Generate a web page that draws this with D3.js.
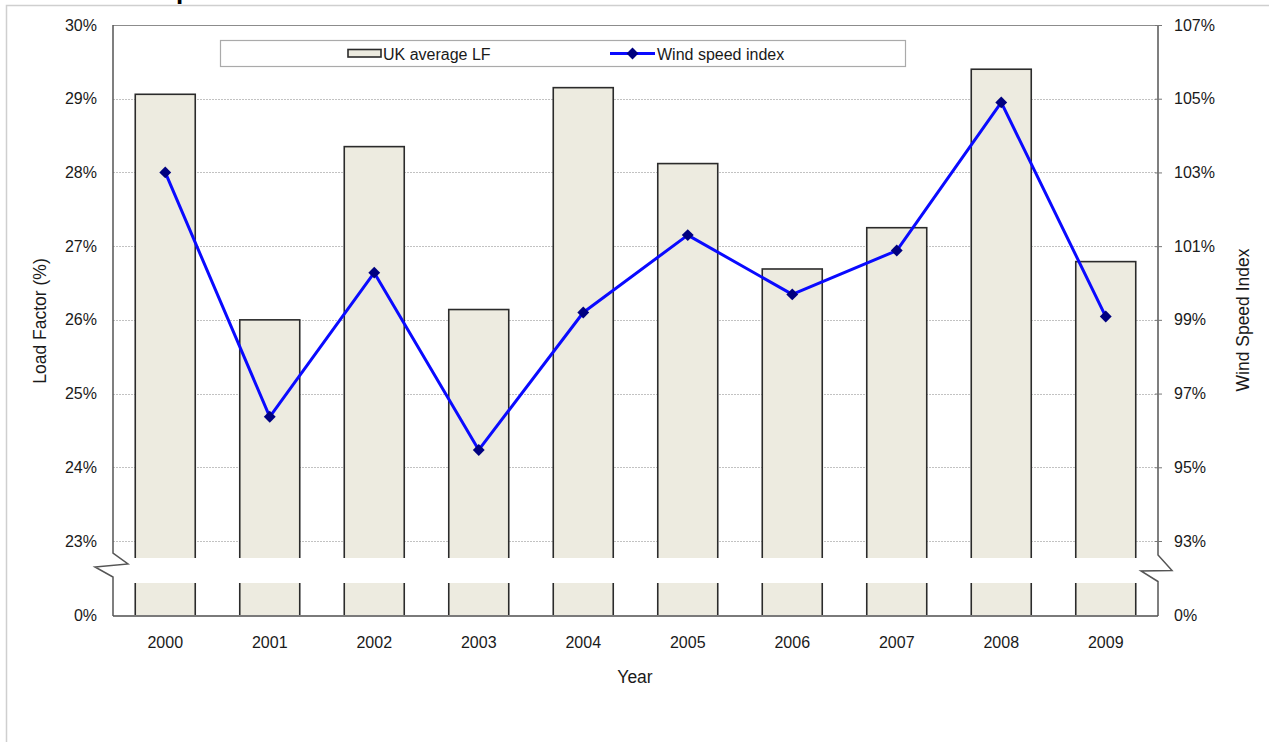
<!DOCTYPE html>
<html>
<head>
<meta charset="utf-8">
<script src="https://cdn.jsdelivr.net/npm/d3@7/dist/d3.min.js"></script>
<style>
  html, body { margin: 0; padding: 0; background: #fff; }
  svg { display: block; }
  text { font-family: "Liberation Sans", Arial, Helvetica, sans-serif; fill: #1a1a1a; }
</style>
</head>
<body>
<svg id="chart" width="1269" height="742"></svg>
<script>
// UK wind farm load factor vs wind speed index, 2000-2009
const years = ["2000", "2001", "2002", "2003", "2004", "2005", "2006", "2007", "2008", "2009"];
const loadFactor = [29.06, 26.00, 28.35, 26.14, 29.15, 28.12, 26.69, 27.25, 29.40, 26.79];
const windIndex = [103.0, 96.37, 100.28, 95.47, 99.20, 101.30, 99.69, 100.88, 104.90, 99.09];
const leftTicks = [23, 24, 25, 26, 27, 28, 29, 30];
const rightTicks = [93, 95, 97, 99, 101, 103, 105, 107];
const seriesNames = ["UK average LF", "Wind speed index"];

const svg = d3.select("#chart");

// plot geometry
const pL = 113, pR = 1158, pT = 25, pB = 616;
const breakTop = 558, breakBottom = 583;

const x = d3.scaleBand().domain(years).range([pL, pR])
  .paddingInner(0.426).paddingOuter(0.213);
const yL = d3.scaleLinear().domain([23, 30]).range([541, pT]);
const yR = d3.scaleLinear().domain([93, 107]).range([541, pT]);

// outer frame of the figure
svg.append("path")
  .attr("d", "M6.5,742 V5.5 H1269")
  .attr("fill", "none").attr("stroke", "#cfcfcf").attr("stroke-width", 1.5);

// title fragment running off the top edge
svg.append("text").attr("x", 176).attr("y", -1)
  .attr("font-size", 26).attr("font-weight", "bold").style("fill", "#000").text("p");

// gridlines
svg.append("g").selectAll("line")
  .data(leftTicks.filter(d => d < 30)).join("line")
  .attr("x1", pL).attr("x2", pR)
  .attr("y1", d => Math.round(yL(d)) + 0.5).attr("y2", d => Math.round(yL(d)) + 0.5)
  .attr("stroke", "#c2c2c2").attr("stroke-width", 1).attr("stroke-dasharray", "2,1");

// bars
svg.append("g").selectAll("rect")
  .data(years.map((y, i) => ({ year: y, v: loadFactor[i] }))).join("rect")
  .attr("x", d => x(d.year))
  .attr("y", d => yL(d.v))
  .attr("width", x.bandwidth())
  .attr("height", d => pB - yL(d.v))
  .attr("fill", "#edebe0").attr("stroke", "#2b2b2b").attr("stroke-width", 1.6);

// axis break band
svg.append("rect").attr("x", pL + 1).attr("y", breakTop)
  .attr("width", pR - pL - 2).attr("height", breakBottom - breakTop)
  .attr("fill", "#fff");

// plot frame: top border and baseline
svg.append("line").attr("x1", pL).attr("x2", pR).attr("y1", pT + 0.5).attr("y2", pT + 0.5)
  .attr("stroke", "#8c8c8c").attr("stroke-width", 1.2);
svg.append("line").attr("x1", pL).attr("x2", pR).attr("y1", pB).attr("y2", pB)
  .attr("stroke", "#7a7a7a").attr("stroke-width", 2);

// left axis with break mark
svg.append("path")
  .attr("d", `M${pL},${pT} V553 L128,564 L95,567 L${pL},577 V${pB}`)
  .attr("fill", "none").attr("stroke", "#555").attr("stroke-width", 1.5);
// right axis with break mark
svg.append("path")
  .attr("d", `M${pR},${pT} V555 L1172,570.5 L1141,571 L${pR},581.5 V${pB}`)
  .attr("fill", "none").attr("stroke", "#555").attr("stroke-width", 1.5);

// left tick labels
const axL = svg.append("g").attr("transform", `translate(${pL},0)`)
  .call(d3.axisLeft(yL).tickValues(leftTicks).tickSize(0).tickPadding(16).tickFormat(d => d + "%"));
axL.select(".domain").remove();
axL.selectAll("text").attr("font-size", 16).attr("font-family", null).attr("fill", "#1a1a1a");

// right ticks and labels
const axR = svg.append("g").attr("transform", `translate(${pR},0)`)
  .call(d3.axisRight(yR).tickValues(rightTicks).tickSize(4).tickPadding(12).tickFormat(d => d + "%"));
axR.select(".domain").remove();
axR.selectAll("line").attr("x1", -3).attr("stroke", "#777");
axR.selectAll("text").attr("font-size", 16).attr("font-family", null).attr("fill", "#1a1a1a");

// zero labels below the break
svg.append("text").attr("x", pL - 16).attr("y", pB).attr("dy", "0.32em")
  .attr("text-anchor", "end").attr("font-size", 16).text("0%");
svg.append("text").attr("x", pR + 16).attr("y", pB).attr("dy", "0.32em")
  .attr("font-size", 16).text("0%");

// year labels
svg.append("g").selectAll("text").data(years).join("text")
  .attr("x", d => x(d) + x.bandwidth() / 2).attr("y", 648)
  .attr("text-anchor", "middle").attr("font-size", 16).text(d => d);

// axis titles
svg.append("text").attr("x", 635).attr("y", 683).attr("text-anchor", "middle")
  .attr("font-size", 17.5).text("Year");
svg.append("text").attr("transform", "translate(46,321) rotate(-90)")
  .attr("text-anchor", "middle").attr("font-size", 17.5).text("Load Factor (%)");
svg.append("text").attr("transform", "translate(1249,320) rotate(-90)")
  .attr("text-anchor", "middle").attr("font-size", 17.5).text("Wind Speed Index");

// wind speed index line
const pts = years.map((y, i) => [x(y) + x.bandwidth() / 2, yR(windIndex[i])]);
svg.append("path").attr("d", d3.line()(pts))
  .attr("fill", "none").attr("stroke", "#0a0aff").attr("stroke-width", 3)
  .attr("stroke-linejoin", "round");
const diamond = d3.symbol().type(d3.symbolDiamond2).size(90);
svg.append("g").selectAll("path").data(pts).join("path")
  .attr("transform", d => `translate(${d[0]},${d[1]})`)
  .attr("d", diamond).attr("fill", "#000080");

// legend
const lg = svg.append("g");
lg.append("rect").attr("x", 220.5).attr("y", 40.5).attr("width", 685).attr("height", 26)
  .attr("fill", "#fff").attr("stroke", "#aaa").attr("stroke-width", 1.2);
lg.append("rect").attr("x", 348).attr("y", 49.5).attr("width", 33).attr("height", 7.5)
  .attr("fill", "#edebe0").attr("stroke", "#2b2b2b").attr("stroke-width", 1.6);
lg.append("text").attr("x", 383).attr("y", 59.5).attr("font-size", 16).text(seriesNames[0]);
lg.append("line").attr("x1", 610).attr("x2", 655).attr("y1", 53.5).attr("y2", 53.5)
  .attr("stroke", "#0a0aff").attr("stroke-width", 3);
lg.append("path").attr("transform", "translate(632.5,53.5)").attr("d", diamond).attr("fill", "#000080");
lg.append("text").attr("x", 657).attr("y", 59.5).attr("font-size", 16).text(seriesNames[1]);
</script>
</body>
</html>
